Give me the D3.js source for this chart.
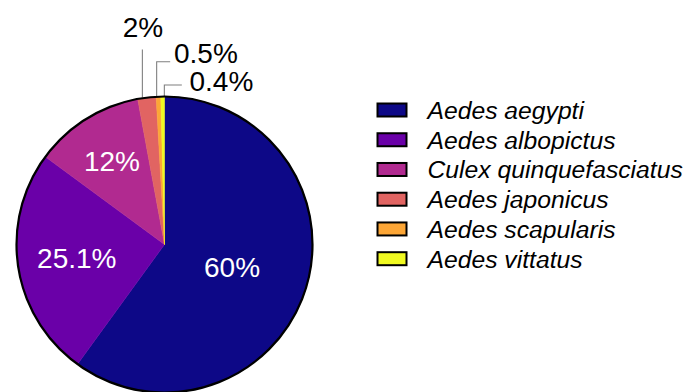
<!DOCTYPE html>
<html>
<head>
<meta charset="utf-8">
<script src="https://cdn.jsdelivr.net/npm/d3@7"></script>
<style>
  html, body { margin: 0; padding: 0; background: #ffffff; }
  svg { display: block; font-family: "Liberation Sans", Arial, Helvetica, sans-serif; }
</style>
</head>
<body>
<svg id="chart" width="689" height="392"></svg>
<script>
const categories = ["Aedes aegypti", "Aedes albopictus", "Culex quinquefasciatus", "Aedes japonicus", "Aedes scapularis", "Aedes vittatus"];
const values = [60, 25.1, 12, 2, 0.5, 0.4];
const valueLabels = ["60%", "25.1%", "12%", "2%", "0.5%", "0.4%"];
const colors = ["#0d0887", "#6a00a8", "#b12a90", "#e16462", "#fca636", "#f0f921"];

// layout config
const W = 689, H = 392;
const cx = 164.5, cy = 244.5, R = 148;
const insideRadiusFactor = [0.48, 0.6, 0.67];
const outerCfg = {
  3: { nudge: -4.5, topY: 49.5, hLen: 0, textX: 143, textY: 37, anchor: "middle" },
  4: { nudge: -1.8, topY: 61.7, hLen: 13.5, textX: 174, textY: 63.3, anchor: "start" },
  5: { nudge: 1.7, topY: 85, hLen: 17.5, textX: 189.5, textY: 90.7, anchor: "start" }
};

const data = categories.map((c, i) => ({ name: c, value: values[i], label: valueLabels[i], color: colors[i], i }));

const svg = d3.select("#chart");
const g = svg.append("g").attr("transform", `translate(${cx},${cy})`);

const pie = d3.pie().sort(null).value(d => d.value).startAngle(0).endAngle(2 * Math.PI);
const arcs = pie(data);
const arc = d3.arc().innerRadius(0).outerRadius(R);

g.selectAll("path.slice").data(arcs).join("path")
  .attr("class", "slice")
  .attr("d", arc)
  .attr("fill", d => d.data.color)
  .attr("stroke", d => d.data.color)
  .attr("stroke-width", 0.5);

// inside labels
arcs.slice(0, 3).forEach((a, k) => {
  const mid = (a.startAngle + a.endAngle) / 2;
  const r = R * insideRadiusFactor[k];
  g.append("text")
    .attr("x", r * Math.sin(mid))
    .attr("y", -r * Math.cos(mid))
    .attr("dy", "0.36em")
    .attr("text-anchor", "middle")
    .attr("fill", "#ffffff")
    .attr("font-size", 28)
    .text(a.data.label);
});

// outer labels with leader lines
const root = svg.append("g");
arcs.slice(3).forEach(a => {
  const cfg = outerCfg[a.data.i];
  const mid = (a.startAngle + a.endAngle) / 2;
  const ex = cx + R * Math.sin(mid) + cfg.nudge;
  const ey = cy - R * Math.cos(mid);
  const pts = [[ex, ey], [ex, cfg.topY]];
  if (cfg.hLen > 0) pts.push([ex + cfg.hLen, cfg.topY]);
  root.append("path")
    .attr("d", d3.line()(pts))
    .attr("fill", "none")
    .attr("stroke", "#7f7f7f")
    .attr("stroke-width", 1.1);
  root.append("text")
    .attr("x", cfg.textX)
    .attr("y", cfg.textY)
    .attr("text-anchor", cfg.anchor)
    .attr("fill", "#000")
    .attr("font-size", 28)
    .text(a.data.label);
});
root.append("circle").attr("cx", cx).attr("cy", cy).attr("r", R).attr("fill", "none").attr("stroke", "#000").attr("stroke-width", 2.2);

// legend
const legend = svg.append("g");
const rowY = d3.scalePoint().domain(categories).range([110, 258.7]);
const items = legend.selectAll("g.item").data(data).join("g").attr("class", "item")
  .attr("transform", d => `translate(0,${rowY(d.name)})`);
items.append("rect")
  .attr("x", 377.5).attr("y", -6.5).attr("width", 29).attr("height", 13)
  .attr("fill", d => d.color).attr("stroke", "#000").attr("stroke-width", 2);
items.append("text")
  .attr("x", 427.5).attr("y", 9)
  .attr("font-size", 24.7)
  .attr("font-style", "italic")
  .attr("fill", "#000")
  .text(d => d.name);
</script>
</body>
</html>
